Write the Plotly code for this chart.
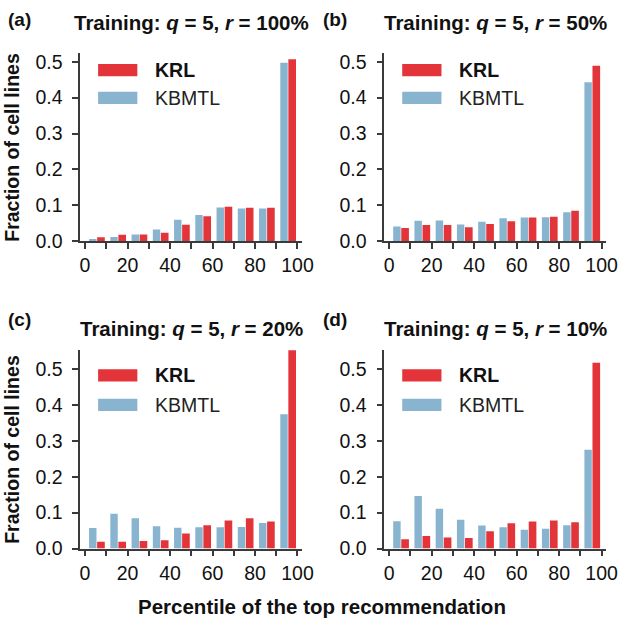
import plotly.graph_objects as go

W, H = 633, 631

# ---- data ----
bin_starts = [0, 10, 20, 30, 40, 50, 60, 70, 80, 90]
x_tick_labels = [0, 20, 40, 60, 80, 100]
y_tick_vals = [0.0, 0.1, 0.2, 0.3, 0.4, 0.5]

krl_a = [0.011, 0.018, 0.019, 0.024, 0.046, 0.070, 0.096, 0.093, 0.093, 0.507]
kbmtl_a = [0.006, 0.012, 0.019, 0.033, 0.060, 0.073, 0.094, 0.091, 0.091, 0.497]

krl_b = [0.037, 0.045, 0.045, 0.039, 0.048, 0.056, 0.066, 0.068, 0.085, 0.489]
kbmtl_b = [0.041, 0.057, 0.058, 0.047, 0.054, 0.064, 0.066, 0.067, 0.081, 0.443]

krl_c = [0.019, 0.019, 0.021, 0.023, 0.042, 0.065, 0.078, 0.084, 0.075, 0.552]
kbmtl_c = [0.057, 0.097, 0.084, 0.062, 0.058, 0.059, 0.059, 0.060, 0.071, 0.374]

krl_d = [0.026, 0.035, 0.031, 0.029, 0.048, 0.070, 0.075, 0.078, 0.073, 0.517]
kbmtl_d = [0.076, 0.146, 0.111, 0.080, 0.064, 0.059, 0.052, 0.055, 0.065, 0.275]

panel_letters = ["(a)", "(b)", "(c)", "(d)"]
r_values = ["100%", "50%", "20%", "10%"]
series_names = ["KRL", "KBMTL"]

RED = "#E3343A"
BLUE = "#89B4D0"
AX = "#3a3a3a"
FONT = "Liberation Sans, Arial, Helvetica, sans-serif"


def px(x):
    return x / W


def py(y):
    return 1 - y / H


# panel geometry in pixels: (left, right, top, bottom, ymax)
panels = [
    (81.7, 308.0, 51.8, 244.3, 0.525),
    (391.7, 618.0, 51.8, 244.3, 0.525),
    (81.7, 308.0, 354.9, 558.0, 0.554),
    (391.7, 618.0, 354.9, 558.0, 0.554),
]
data = [(krl_a, kbmtl_a), (krl_b, kbmtl_b), (krl_c, kbmtl_c), (krl_d, kbmtl_d)]

fig = go.Figure()
annotations = []
shapes = []

for i, ((l, r, t, b, ymax), (krl, kb)) in enumerate(zip(panels, data)):
    n = "" if i == 0 else str(i + 1)
    xa, ya = "x" + n, "y" + n
    fig.add_trace(go.Bar(x=bin_starts, y=kb, offset=1.9, width=3.5,
                         marker=dict(color=BLUE, line=dict(width=0)),
                         xaxis=xa, yaxis=ya, showlegend=False, name=series_names[1]))
    fig.add_trace(go.Bar(x=bin_starts, y=krl, offset=5.7, width=3.6,
                         marker=dict(color=RED, line=dict(width=0)),
                         xaxis=xa, yaxis=ya, showlegend=False, name=series_names[0]))

    axis_common = dict(showline=True, linecolor=AX, linewidth=1.5, ticks="outside",
                       ticklen=6, tickwidth=1.5, tickcolor=AX, showgrid=False,
                       zeroline=False, tickfont=dict(size=19.5, color="#111", family=FONT))
    fig.layout["xaxis" + n] = dict(
        domain=[px(l), px(r)], range=[-2.3, 102.2], anchor=ya,
        tickmode="array", tickvals=x_tick_labels, ticktext=[str(v) for v in x_tick_labels],
        minor=dict(dtick=10, tick0=0, ticks="outside", ticklen=6, tickwidth=1.5, tickcolor=AX),
        **axis_common)
    fig.layout["yaxis" + n] = dict(
        domain=[py(b), py(t)], range=[0, ymax], anchor=xa,
        tickmode="array", tickvals=y_tick_vals, ticktext=[f"{v:.1f}" for v in y_tick_vals],
        ticklabelstandoff=6,
        **axis_common)

    # panel letter and title
    title_y = 21 if i < 2 else 333
    letter_y = 17.5 if i < 2 else 324
    letter_x = 6 if i % 2 == 0 else 327
    annotations.append(dict(x=px(letter_x), y=py(letter_y), xref="paper", yref="paper",
                            text="<b>" + panel_letters[i] + "</b>", showarrow=False,
                            xanchor="left", yanchor="middle",
                            font=dict(size=19, family=FONT, color="#111")))
    annotations.append(dict(x=px((l + r) / 2), y=py(title_y), xref="paper", yref="paper",
                            text="<b>Training: <i>q</i> = 5, <i>r</i> = " + r_values[i] + "</b>",
                            showarrow=False, xanchor="center", yanchor="middle",
                            font=dict(size=20.5, family=FONT, color="#111")))

    # manual legend
    off_x = l - 81.7
    red_top = 63.3 if i < 2 else 375
    blue_top = 91.7 if i < 2 else 405
    ph = 12.5
    shapes.append(dict(type="rect", xref="paper", yref="paper",
                       x0=px(100 + off_x), x1=px(140 + off_x),
                       y0=py(red_top + ph), y1=py(red_top), fillcolor=RED, line=dict(width=0)))
    shapes.append(dict(type="rect", xref="paper", yref="paper",
                       x0=px(100 + off_x), x1=px(140 + off_x),
                       y0=py(blue_top + ph), y1=py(blue_top), fillcolor=BLUE, line=dict(width=0)))
    annotations.append(dict(x=px(156 + off_x), y=py(red_top + ph / 2), xref="paper", yref="paper",
                            text="<b>" + series_names[0] + "</b>", showarrow=False,
                            xanchor="left", yanchor="middle",
                            font=dict(size=19.5, family=FONT, color="#111")))
    annotations.append(dict(x=px(156 + off_x), y=py(blue_top + ph / 2), xref="paper", yref="paper",
                            text=series_names[1], showarrow=False,
                            xanchor="left", yanchor="middle",
                            font=dict(size=19.5, family=FONT, color="#222")))

    # y-axis title for left panels
    if i % 2 == 0:
        annotations.append(dict(x=px(12), y=py((t + b) / 2), xref="paper", yref="paper",
                                text="<b>Fraction of cell lines</b>", textangle=-90,
                                showarrow=False, xanchor="center", yanchor="middle",
                                font=dict(size=19.5, family=FONT, color="#111")))

annotations.append(dict(x=px(328), y=py(617), xref="paper", yref="paper",
                        text="<b>Percentile of the top recommendation</b>", showarrow=False,
                        xanchor="center", yanchor="middle",
                        font=dict(size=20.5, family=FONT, color="#111")))

fig.update_layout(width=W, height=H, margin=dict(l=0, r=0, t=0, b=0),
                  paper_bgcolor="white", plot_bgcolor="white",
                  barmode="overlay", annotations=annotations, shapes=shapes,
                  font=dict(family=FONT))

fig.write_html("out.html", config={"displayModeBar": False},
               post_script="document.body.style.margin='0';document.body.style.overflow='hidden';")
